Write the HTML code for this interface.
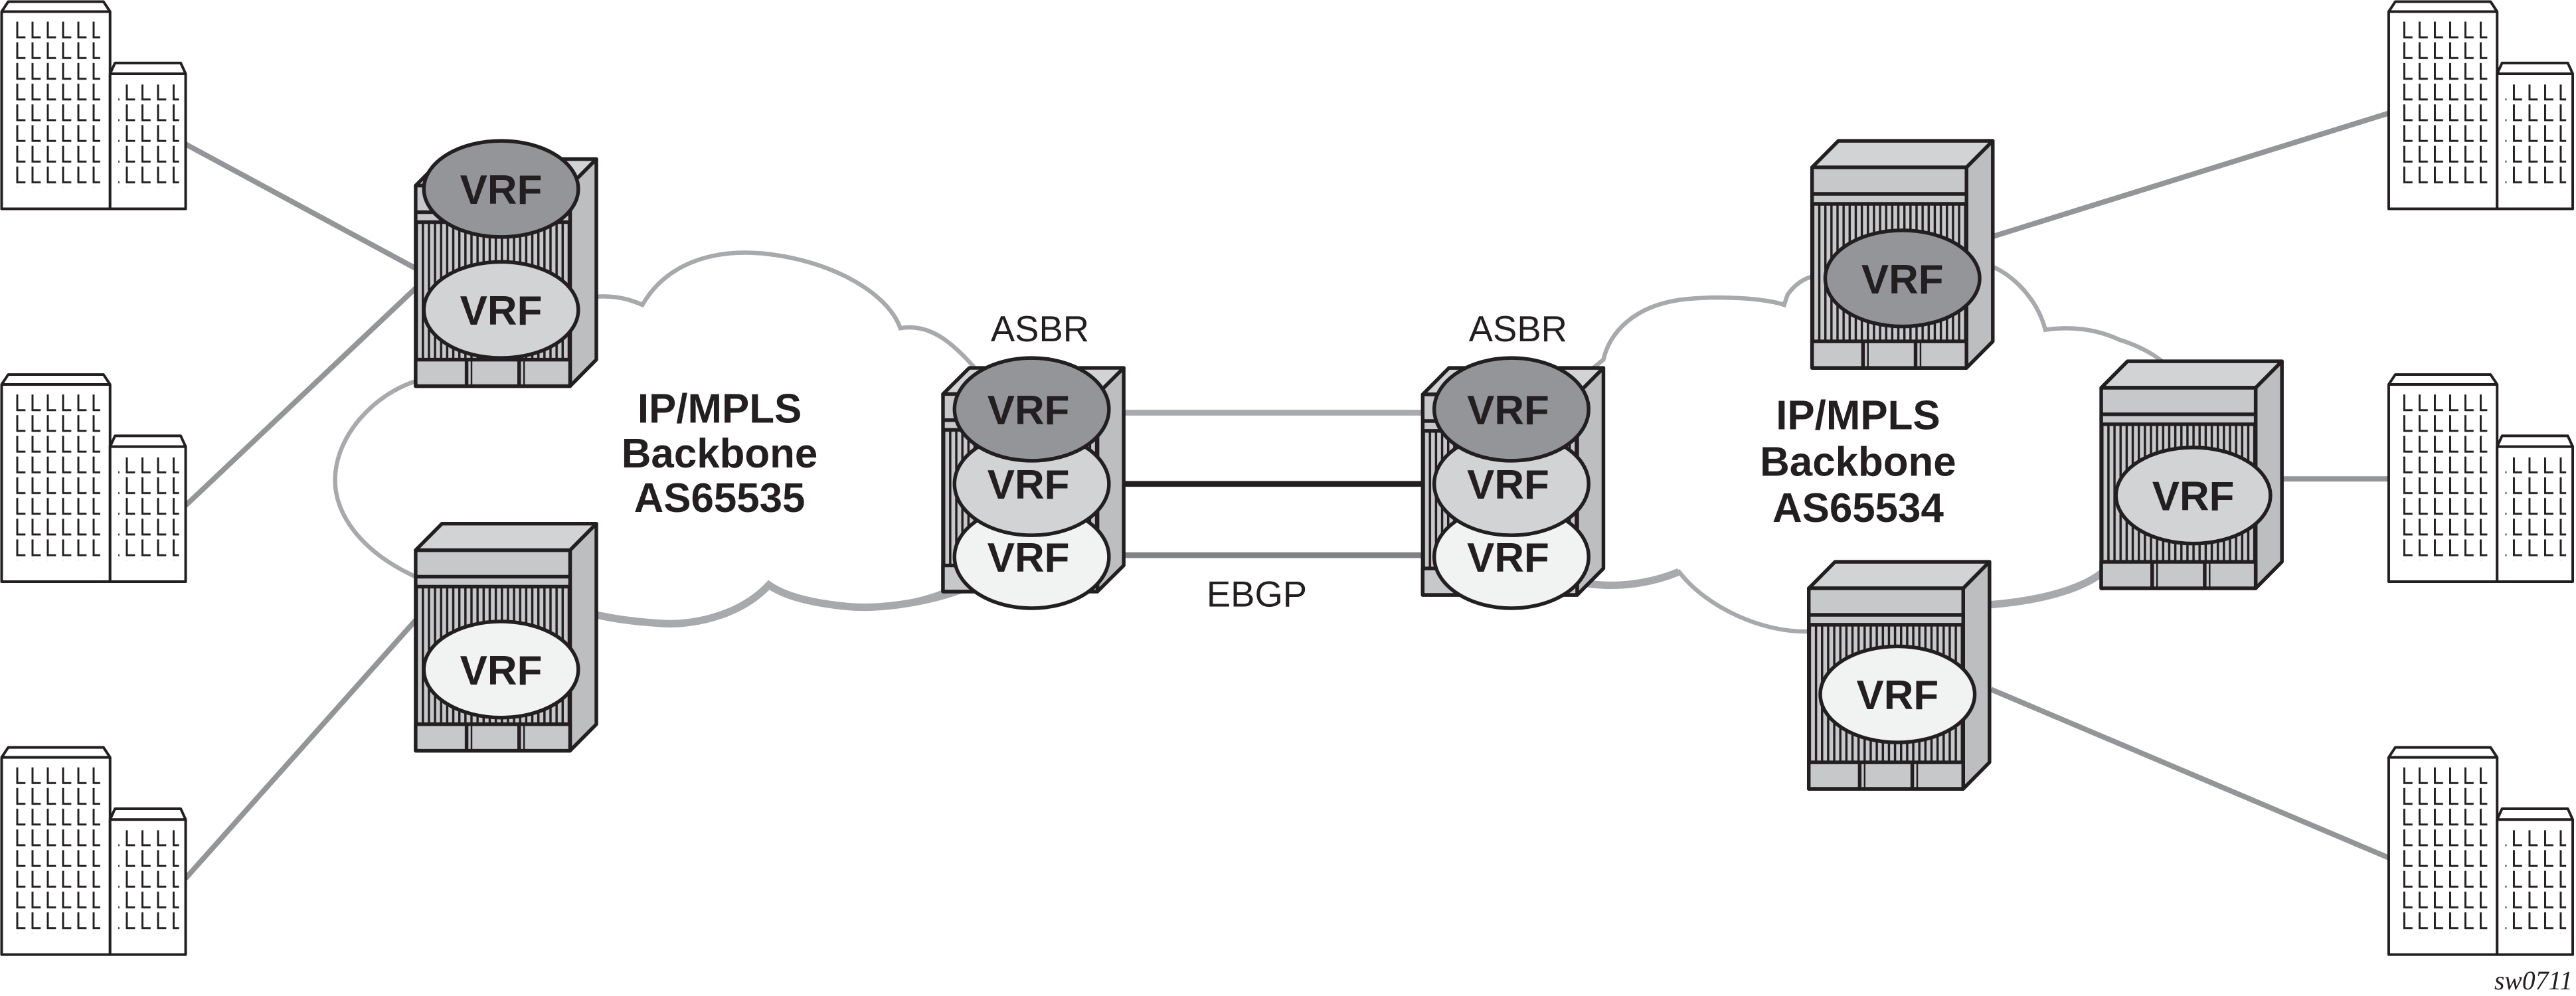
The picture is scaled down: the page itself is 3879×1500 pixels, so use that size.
<!DOCTYPE html>
<html><head><meta charset="utf-8"><style>
html,body{margin:0;padding:0;background:#fff;width:3879px;height:1500px;overflow:hidden}
svg{display:block}
</style></head><body>
<svg width="3879" height="1500" viewBox="0 0 1568 601" preserveAspectRatio="none" xmlns="http://www.w3.org/2000/svg">
<defs>
<pattern id="st" width="3.7" height="10" patternUnits="userSpaceOnUse">
<rect width="3.7" height="10" fill="#c7c8ca"/><rect x="0" width="1.4" height="10" fill="#231f20"/>
</pattern>
<pattern id="win" width="9.3" height="12.5" patternUnits="userSpaceOnUse">
<path d="M1.2,0.5 V10 H6.2" fill="none" stroke="#231f20" stroke-width="1.2"/>
</pattern>
<pattern id="win2" width="9.5" height="12.5" patternUnits="userSpaceOnUse">
<path d="M1.2,0.5 V10 H6.2" fill="none" stroke="#231f20" stroke-width="1.2"/>
</pattern>
<g id="rt" stroke="#231f20" stroke-width="2.2" stroke-linejoin="round">
<polygon points="0,16 16,0 110,0 94,16" fill="#d1d3d4"/>
<polygon points="94,16 110,0 110,121 94,137" fill="#bcbec0"/>
<rect x="0" y="16" width="94" height="121" fill="#c7c8ca"/>
<rect x="0" y="38" width="94" height="83" fill="url(#st)" stroke-width="1.2"/>
<line x1="0" y1="32" x2="94" y2="32"/>
<line x1="0" y1="38" x2="94" y2="38"/>
<rect x="0" y="121" width="94" height="16" fill="#c7c8ca"/>
<line x1="31" y1="121" x2="31" y2="137"/><line x1="34" y1="121" x2="34" y2="137" stroke-width="1"/>
<line x1="63" y1="121" x2="63" y2="137"/><line x1="66" y1="121" x2="66" y2="137" stroke-width="1"/>
</g>
<g id="bd" stroke="#231f20" stroke-width="1.6" fill="#fff" stroke-linejoin="round">
<polygon points="1,126 1,7 5,1 63,1 67,7 67,126"/>
<line x1="1" y1="7" x2="67" y2="7"/>
<polygon points="67,126 67,44.5 70,38 110,38 113,44.5 113,126"/>
<line x1="67" y1="44.5" x2="113" y2="44.5"/>
<rect x="7" y="13" width="54" height="100" fill="url(#win)" stroke="none"/>
<rect x="72" y="51" width="37" height="62" fill="url(#win2)" stroke="none"/>
</g>
</defs>

<g stroke="#939598" stroke-width="3.2" fill="none">
<line x1="113" y1="87" x2="255" y2="163"/>
<line x1="113" y1="305" x2="255" y2="172"/>
<line x1="113" y1="530" x2="255" y2="372"/>
<line x1="1212" y1="143" x2="1455" y2="68"/>
<line x1="1388" y1="289" x2="1455" y2="289"/>
<line x1="1212" y1="416" x2="1455" y2="518"/>
</g>

<use href="#bd" x="0" y="0"/><use href="#bd" x="0" y="225"/><use href="#bd" x="0" y="450"/>
<use href="#bd" x="1453" y="0"/><use href="#bd" x="1453" y="225"/><use href="#bd" x="1453" y="450"/>

<path d="M300,182 L363,179 Q378,178 391,184 C405,160 432,150 465,153 C505,157 540,176 548,198 C565,195 580,205 600,230 L600,340 C585,360 540,368 516,366 C495,364 478,360 468,353 C450,372 420,378 400,376 C385,375 372,373 363,371 L300,371 L253,348 C220,333 203,310 204,288 C205,262 228,238 253,230 Z" fill="#fff" stroke="#a7a9ac" stroke-width="2.6"/>
<path d="M590,354 C570,362 540,368 516,366 C495,364 478,360 468,353 C450,372 420,378 400,376 C385,375 372,373 363,371" fill="none" stroke="#a7a9ac" stroke-width="4.5"/>
<path d="M976,217 C980,200 995,185 1022,181 C1045,178 1075,180 1086,184 L1088,178 C1092,172 1098,168 1103,167 L1213,161 C1225,166 1240,180 1245,199 C1260,197 1275,198 1290,205 C1300,208 1310,213 1316,218 L1300,300 L1281,344 C1275,352 1250,362 1214,365 L1101,381 C1075,382 1040,368 1022,345 C1005,352 985,355 960,352 L960,230 Z" fill="#fff" stroke="#a7a9ac" stroke-width="2.6"/>
<path d="M1283,342 C1275,352 1250,362 1210,365 M1022,345 C1005,352 985,355 965,352" fill="none" stroke="#a7a9ac" stroke-width="4.5"/>

<line x1="684" y1="249" x2="870" y2="249" stroke="#a7a9ac" stroke-width="3.5"/>
<line x1="684" y1="292" x2="870" y2="292" stroke="#231f20" stroke-width="3.5"/>
<line x1="684" y1="335" x2="870" y2="335" stroke="#808285" stroke-width="3.5"/>

<use href="#rt" transform="translate(253,96)"/>
<use href="#rt" transform="translate(253,316)"/>
<use href="#rt" transform="translate(574,222) scale(1,0.985)"/>
<use href="#rt" transform="translate(866,222)"/>
<use href="#rt" transform="translate(1103,85)"/>
<use href="#rt" transform="translate(1279,218)"/>
<use href="#rt" transform="translate(1101,339)"/>

<g stroke="#231f20" stroke-width="2.2">
<ellipse cx="305" cy="187" rx="47" ry="29" fill="#d1d3d4"/>
<ellipse cx="305" cy="114" rx="47" ry="29" fill="#939598"/>
<ellipse cx="305" cy="404" rx="47" ry="29" fill="#f1f2f2"/>
<ellipse cx="628" cy="336" rx="47" ry="31" fill="#f1f2f2"/>
<ellipse cx="628" cy="292" rx="47" ry="31" fill="#d1d3d4"/>
<ellipse cx="628" cy="247" rx="47" ry="31" fill="#939598"/>
<ellipse cx="920" cy="336" rx="47" ry="31" fill="#f1f2f2"/>
<ellipse cx="920" cy="292" rx="47" ry="31" fill="#d1d3d4"/>
<ellipse cx="920" cy="247" rx="47" ry="31" fill="#939598"/>
<ellipse cx="1158" cy="168" rx="47" ry="29" fill="#939598"/>
<ellipse cx="1335" cy="299" rx="47" ry="29" fill="#d1d3d4"/>
<ellipse cx="1155" cy="419" rx="47" ry="29" fill="#f1f2f2"/>
</g>
<g font-family="Liberation Sans, Arial, sans-serif" font-weight="bold" font-size="25" fill="#231f20" text-anchor="middle">
<text x="305" y="123">VRF</text>
<text x="305" y="196">VRF</text>
<text x="305" y="413">VRF</text>
<text x="626" y="256">VRF</text>
<text x="626" y="301">VRF</text>
<text x="626" y="345">VRF</text>
<text x="918" y="256">VRF</text>
<text x="918" y="301">VRF</text>
<text x="918" y="345">VRF</text>
<text x="1158" y="177">VRF</text>
<text x="1335" y="308">VRF</text>
<text x="1155" y="428">VRF</text>
<text x="438" y="255">IP/MPLS</text>
<text x="438" y="282">Backbone</text>
<text x="438" y="309">AS65535</text>
<text x="1131" y="259">IP/MPLS</text>
<text x="1131" y="287">Backbone</text>
<text x="1131" y="315">AS65534</text>
</g>
<g font-family="Liberation Sans, Arial, sans-serif" font-size="22" fill="#231f20" text-anchor="middle">
<text x="633" y="206">ASBR</text>
<text x="924" y="206">ASBR</text>
<text x="765" y="366">EBGP</text>
</g>
<text x="1566" y="597" font-family="Liberation Serif, serif" font-style="italic" font-size="16" fill="#231f20" text-anchor="end">sw0711</text>
</svg>
</body></html>
